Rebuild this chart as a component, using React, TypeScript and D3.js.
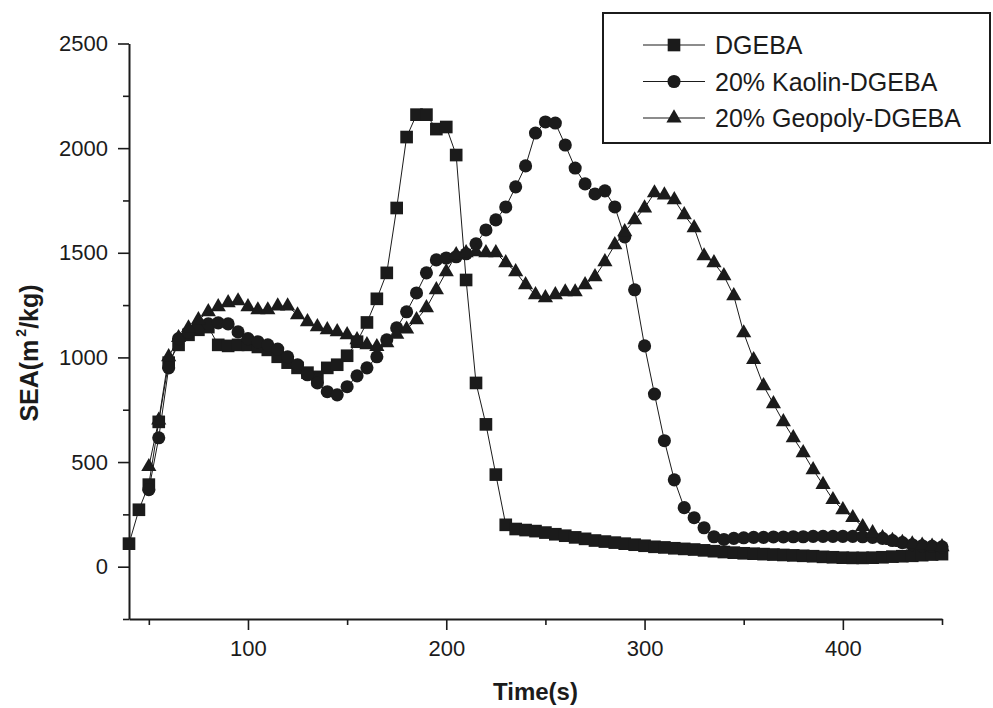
import * as d3 from 'd3';
import { useEffect, useRef } from 'react';

// SEA vs time: [time (s), SEA (m2/kg)]
const dgeba: [number, number][] = [
  [40, 110], [45, 272], [50, 392], [55, 692], [60, 975], [65, 1060], [70, 1108], [75, 1132],
  [80, 1145], [85, 1060], [90, 1055], [95, 1060], [100, 1060], [105, 1050], [110, 1036],
  [115, 1003], [120, 975], [125, 950], [130, 927], [135, 907], [140, 950], [145, 965],
  [150, 1008], [155, 1075], [160, 1167], [165, 1280], [170, 1404], [175, 1714], [180, 2053],
  [185, 2160], [190, 2160], [195, 2091], [200, 2101], [205, 1967], [210, 1370], [215, 878],
  [220, 680], [225, 440], [230, 200], [235, 180], [240, 175], [245, 170], [250, 163],
  [255, 155], [260, 148], [265, 140], [270, 133], [275, 125], [280, 120], [285, 115],
  [290, 110], [295, 105], [300, 100], [305, 95], [310, 92], [315, 88], [320, 85], [325, 82],
  [330, 78], [335, 74], [340, 70], [345, 67], [350, 64], [355, 62], [360, 60], [365, 58],
  [370, 56], [375, 54], [380, 52], [385, 50], [390, 47], [395, 45], [400, 43], [405, 42],
  [410, 42], [415, 43], [420, 45], [425, 48], [430, 50], [435, 52], [440, 55], [445, 58],
  [450, 60],
];

const kaolin: [number, number][] = [
  [50, 368], [55, 616], [60, 950], [65, 1090], [70, 1120], [75, 1145], [80, 1160], [85, 1165],
  [90, 1160], [95, 1122], [100, 1090], [105, 1075], [110, 1060], [115, 1040], [120, 1003],
  [125, 965], [130, 917], [135, 878], [140, 836], [145, 821], [150, 860], [155, 912],
  [160, 950], [165, 1003], [170, 1084], [175, 1141], [180, 1218], [185, 1308], [190, 1404],
  [195, 1466], [200, 1475], [205, 1481], [210, 1495], [215, 1543], [220, 1609], [225, 1657],
  [230, 1719], [235, 1815], [240, 1915], [245, 2072], [250, 2125], [255, 2120], [260, 2015],
  [265, 1905], [270, 1829], [275, 1781], [280, 1796], [285, 1719], [290, 1576], [295, 1323],
  [300, 1055], [305, 825], [310, 602], [315, 415], [320, 282], [325, 234], [330, 186],
  [335, 143], [340, 130], [345, 135], [350, 138], [355, 140], [360, 140], [365, 142],
  [370, 142], [375, 143], [380, 143], [385, 145], [390, 145], [395, 145], [400, 145],
  [405, 145], [410, 143], [415, 140], [420, 135], [425, 125], [430, 115], [435, 105],
  [440, 100], [445, 97], [450, 95],
];

const geopoly: [number, number][] = [
  [50, 478], [55, 700], [60, 1003], [65, 1094], [70, 1141], [75, 1180], [80, 1218], [85, 1242],
  [90, 1261], [95, 1270], [100, 1242], [105, 1227], [110, 1227], [115, 1245], [120, 1245],
  [125, 1203], [130, 1170], [135, 1146], [140, 1132], [145, 1122], [150, 1108], [155, 1084],
  [160, 1060], [165, 1051], [170, 1070], [175, 1110], [180, 1135], [185, 1180], [190, 1237],
  [195, 1323], [200, 1409], [205, 1490], [210, 1500], [215, 1504], [220, 1500], [225, 1500],
  [230, 1452], [235, 1409], [240, 1347], [245, 1299], [250, 1285], [255, 1299], [260, 1313],
  [265, 1313], [270, 1347], [275, 1385], [280, 1457], [285, 1538], [290, 1600], [295, 1657],
  [300, 1714], [305, 1786], [310, 1776], [315, 1753], [320, 1681], [325, 1619], [330, 1485],
  [335, 1452], [340, 1390], [345, 1294], [350, 1117], [355, 989], [360, 864], [365, 778],
  [370, 692], [375, 616], [380, 544], [385, 463], [390, 392], [395, 320], [400, 272],
  [405, 234], [410, 191], [415, 162], [420, 138], [425, 125], [430, 115], [435, 108],
  [440, 102], [445, 98], [450, 95],
];

const seriesNames = ['DGEBA', '20% Kaolin-DGEBA', '20% Geopoly-DGEBA'];
const xMajorTicks = [100, 200, 300, 400];
const xMinorTicks = [50, 150, 250, 350, 450];
const yMajorTicks = [0, 500, 1000, 1500, 2000, 2500];
const yMinorTicks = [-250, 250, 750, 1250, 1750, 2250];

const FONT = '"Liberation Sans", Arial, sans-serif';
const INK = '#1b1b1b';

const App = () => {
  const ref = useRef<SVGSVGElement>(null);

  useEffect(() => {
    const width = 993;
    const height = 708;
    const margin = { top: 43.5, right: 51, bottom: 89, left: 129 };

    const svg = d3.select(ref.current);
    svg.selectAll('*').remove();
    svg.attr('width', width).attr('height', height);

    svg.append('rect').attr('width', width).attr('height', height).attr('fill', '#fff');

    const x = d3.scaleLinear().domain([40, 450]).range([margin.left, width - margin.right]);
    const y = d3.scaleLinear().domain([-250, 2500]).range([height - margin.bottom, margin.top]);

    const styleAxis = (g: any) => {
      g.selectAll('path.domain').attr('stroke', INK).attr('stroke-width', 2);
      g.selectAll('.tick line').attr('stroke', INK).attr('stroke-width', 1.6);
      g.selectAll('.tick text').attr('fill', INK).style('font-family', FONT).style('font-size', '22px');
    };

    // x axis
    const xg = svg.append('g').attr('transform', `translate(0,${height - margin.bottom})`);
    xg.call(d3.axisBottom(x).tickValues(xMajorTicks).tickSize(11).tickSizeOuter(0).tickPadding(10).tickFormat(d3.format('d')));
    styleAxis(xg);
    const xm = svg.append('g').attr('transform', `translate(0,${height - margin.bottom})`);
    xm.call(d3.axisBottom(x).tickValues(xMinorTicks).tickSize(6).tickFormat(() => ''));
    xm.select('path.domain').remove();
    styleAxis(xm);

    // y axis
    const yg = svg.append('g').attr('transform', `translate(${margin.left},0)`);
    yg.call(d3.axisLeft(y).tickValues(yMajorTicks).tickSize(11).tickSizeOuter(0).tickPadding(10).tickFormat(d3.format('d')));
    styleAxis(yg);
    const ym = svg.append('g').attr('transform', `translate(${margin.left},0)`);
    ym.call(d3.axisLeft(y).tickValues(yMinorTicks).tickSize(6).tickFormat(() => ''));
    ym.select('path.domain').remove();
    styleAxis(ym);

    // axis titles
    svg.append('text')
      .attr('x', (margin.left + width - margin.right) / 2)
      .attr('y', 700)
      .attr('text-anchor', 'middle')
      .style('font-family', FONT).style('font-size', '24px').style('font-weight', 'bold')
      .attr('fill', INK)
      .text('Time(s)');

    const yt = svg.append('text')
      .attr('transform', 'translate(38,353) rotate(-90)')
      .attr('text-anchor', 'middle')
      .style('font-family', FONT).style('font-size', '25px').style('font-weight', 'bold')
      .attr('fill', INK);
    yt.append('tspan').text('SEA(m');
    yt.append('tspan').attr('dx', 3).attr('dy', -12).style('font-size', '14px').text('2');
    yt.append('tspan').attr('dy', 12).text('/kg)');

    // series
    const symbols = [d3.symbolSquare, d3.symbolCircle, d3.symbolTriangle];
    const sizes = [160, 135, 100];
    const allData = [dgeba, kaolin, geopoly];
    const line = d3.line<[number, number]>().x(d => x(d[0])).y(d => y(d[1]));

    allData.forEach((data, i) => {
      svg.append('path')
        .datum(data)
        .attr('d', line)
        .attr('fill', 'none')
        .attr('stroke', INK)
        .attr('stroke-width', 1);
      svg.append('g')
        .selectAll('path')
        .data(data)
        .enter()
        .append('path')
        .attr('transform', d => `translate(${x(d[0])},${y(d[1])})`)
        .attr('d', d3.symbol(symbols[i], sizes[i])())
        .attr('fill', INK);
    });

    // legend
    const lg = svg.append('g');
    lg.append('rect')
      .attr('x', 603).attr('y', 13).attr('width', 387).attr('height', 130)
      .attr('fill', '#fff').attr('stroke', INK).attr('stroke-width', 2);
    seriesNames.forEach((name, i) => {
      const cy = 45 + i * 36.5;
      lg.append('line')
        .attr('x1', 643).attr('x2', 705).attr('y1', cy).attr('y2', cy)
        .attr('stroke', INK).attr('stroke-width', 1.2);
      lg.append('path')
        .attr('transform', `translate(674,${cy})`)
        .attr('d', d3.symbol(symbols[i], sizes[i])())
        .attr('fill', INK);
      lg.append('text')
        .attr('x', 715).attr('y', cy)
        .attr('dy', '0.36em')
        .style('font-family', FONT).style('font-size', '25px')
        .attr('fill', INK)
        .text(name);
    });
  }, []);

  return (
    <div style={{ position: 'absolute', left: 0, top: 0 }}>
      <svg ref={ref} style={{ display: 'block' }}></svg>
    </div>
  );
};

export default App;
